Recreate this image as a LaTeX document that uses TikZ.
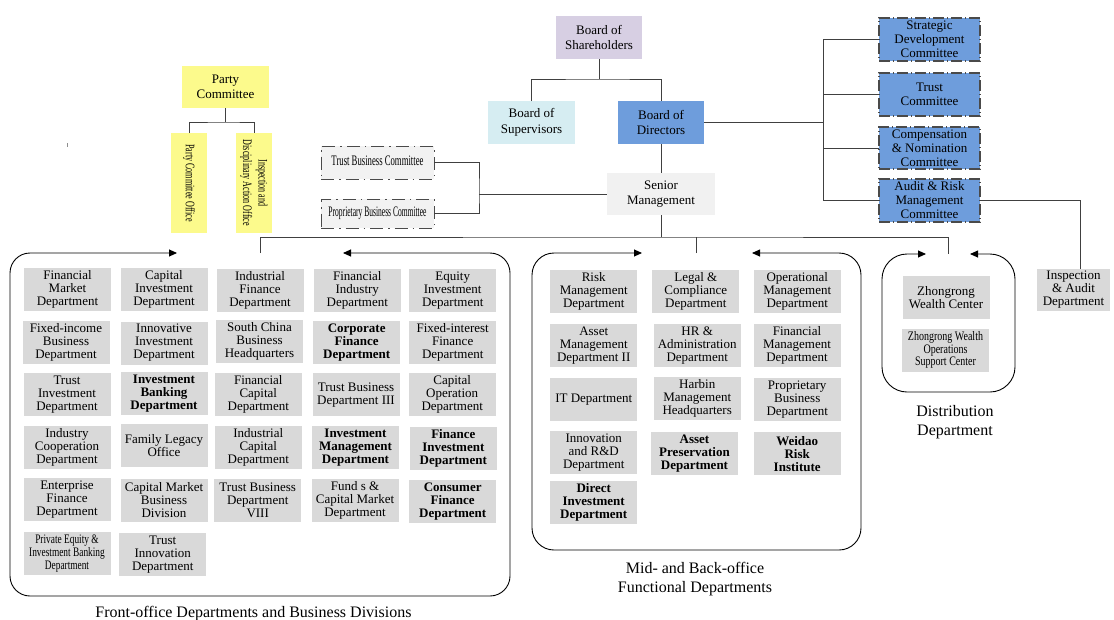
\documentclass[tikz,border=0pt]{standalone}
\usepackage{graphicx}
\usepackage{fontspec}
\setmainfont{Liberation Serif}
\usetikzlibrary{arrows.meta}
\definecolor{linegray}{HTML}{404040}
\definecolor{deptgray}{HTML}{D9D9D9}
\definecolor{smgray}{HTML}{F1F1F1}
\definecolor{supblue}{HTML}{D6EDF2}
\definecolor{dirblue}{HTML}{6E9DDC}
\definecolor{shpurple}{HTML}{D7CFE3}
\definecolor{partyyellow}{HTML}{FCFA8C}
\definecolor{combox}{HTML}{F2F2F2}
\definecolor{dashgray}{HTML}{4A4A4A}
\newcommand{\narrowtext}[4]{\scalebox{#1}[1]{\fontsize{#2}{#3}\selectfont\begin{tabular}{@{}c@{}}#4\end{tabular}}}
\begin{document}
\begin{tikzpicture}[x=1pt,y=-1pt,
  box/.style={inner sep=0pt, outer sep=0pt, align=center, text=black, font=\fontsize{13}{13}\selectfont},
  dept/.style={box, fill=deptgray, minimum width=87pt, minimum height=43pt},
  bdept/.style={dept, font=\fontsize{13}{13}\selectfont\bfseries},
  board/.style={box, minimum width=86pt, minimum height=43pt, font=\fontsize{13}{15.5}\selectfont},
  comm/.style={box, fill=dirblue, minimum width=101pt, minimum height=43pt, draw=dashgray, line width=1.1pt, dash pattern=on 11pt off 3pt on 1pt off 3pt, font=\fontsize{13}{14}\selectfont},
  bizcomm/.style={box, fill=combox, minimum width=113pt, draw=dashgray, line width=1pt, dash pattern=on 13pt off 5pt on 1.5pt off 5pt},
  office/.style={box, fill=partyyellow, rotate=-90, minimum width=100pt, minimum height=36pt},
  conn/.style={draw=linegray, line width=0.9pt},
  grp/.style={draw=black, line width=0.9pt, arrows={Triangle[length=8pt,width=7pt]-Triangle[length=8pt,width=7pt]}},
  lbl/.style={align=center, font=\fontsize{16}{19.5}\selectfont, inner sep=0pt}
]
\useasboundingbox (0,0) rectangle (1114,619);

% top governance
\node[board, fill=shpurple] (sh) at (599,37.5) {Board of\\Shareholders};
\node[board, fill=supblue, minimum width=87pt] (sup) at (531.5,122.5) {Board of\\Supervisors};
\node[board, fill=dirblue] (dir) at (661,122.5) {Board of\\Directors};
\node[board, fill=smgray, minimum width=108pt, minimum height=42pt] (sm) at (661,194) {Senior\\Management};
\node[comm] (c1) at (929.5,39.5) {Strategic\\Development\\Committee};
\node[comm] (c2) at (929.5,94.5) {Trust\\Committee};
\node[comm, minimum height=42pt] (c3) at (929.5,148) {Compensation\\\& Nomination\\Committee};
\node[comm] (c4) at (929.5,200.5) {Audit \& Risk\\Management\\Committee};
\node[dept, minimum width=73pt, minimum height=42pt] (ia) at (1073.5,290) {Inspection\\\& Audit\\Department};

% party
\node[board, fill=partyyellow, minimum width=87pt, minimum height=42pt] (pc) at (225.5,87) {Party\\Committee};
\node[office] (pco) at (189,183) {\narrowtext{0.62}{13}{15.5}{Party Committee Office}};
\node[office] (ido) at (254,183) {\narrowtext{0.62}{13}{15.5}{Inspection and\\Disciplinary Action Office}};

% business committees
\node[bizcomm, minimum height=33pt] (tbc) at (377.5,162.5) {\narrowtext{0.6}{14.5}{14.5}{Trust Business Committee}};
\node[bizcomm, minimum height=29pt] (pbc) at (377.5,213.5) {\narrowtext{0.52}{14.5}{14.5}{Proprietary Business Committee}};

% connectors
\coordinate (shj) at (599,79);
\draw[conn] (sh.south) -- (shj);
\draw[conn] (sup.north) |- (shj) -| (dir.north);
\draw[conn] (dir.south) -- (sm.north);
\coordinate (cbus) at (823,122.5);
\draw[conn] (dir.east) -- (cbus);
\draw[conn] (c1.west) -- (c1.west -| cbus) -- (c4.west -| cbus) -- (c4.west);
\draw[conn] (c2.west) -- (c2.west -| cbus);
\draw[conn] (c3.west) -- (c3.west -| cbus);
\draw[conn] (c4.east) -| ([xshift=6.5pt]ia.north);
\coordinate (pcj) at (225.5,122);
\draw[conn] (pc.south) -- (pcj);
\draw[conn] (pco.west) |- (pcj) -| (ido.west);
\coordinate (bcj) at (479,194);
\draw[conn] (tbc.east) -| (bcj) |- (pbc.east);
\draw[conn] (bcj) -- (sm.west);
\coordinate (hb) at (661,237);
\coordinate (fotop) at (260,253);
\coordinate (mbtop) at (696,253);
\coordinate (dtop) at (948,254);
\draw[conn] (sm.south) -- (hb);
\draw[conn] (fotop) |- (hb) -| (dtop);
\draw[conn] (mbtop) -- (mbtop |- hb);

% group frames
\draw[grp, rounded corners=20pt] (177,253) -- (10,253) -- (10,596) -- (510,596) -- (510,253) -- (343,253);
\draw[grp, rounded corners=22pt] (642,253) -- (532,253) -- (532,550) -- (861,550) -- (861,253) -- (752,253);
\draw[grp, rounded corners=25pt] (926,254) -- (882,254) -- (882,392) -- (1015,392) -- (1015,254) -- (970,254);

% stray tick
\draw[linegray!60, line width=0.6pt] (67.5,143) -- (67.5,146.5);

% front office
\node[dept] (f11) at (67.5,289.5) {Financial\\Market\\Department};
\node[dept] (f12) at (66,342.5) {Fixed-income\\Business\\Department};
\node[dept] (f13) at (67,394.5) {Trust\\Investment\\Department};
\node[dept] (f14) at (67,447.5) {Industry\\Cooperation\\Department};
\node[dept] (f15) at (67,499.5) {Enterprise\\Finance\\Department};
\node[dept] (f16) at (67,553.5) {\narrowtext{0.72}{13}{13}{Private Equity \&\\Investment Banking\\Department}};
\node[dept] (f21) at (164,289.5) {Capital\\Investment\\Department};
\node[dept] (f22) at (164,343) {Innovative\\Investment\\Department};
\node[bdept] (f23) at (164,393.5) {Investment\\Banking\\Department};
\node[dept] (f24) at (164,445.7) {Family Legacy\\Office};
\node[dept] (f25) at (164,500.3) {Capital Market\\Business\\Division};
\node[dept] (f26) at (162.7,554.7) {Trust\\Innovation\\Department};
\node[dept] (f31) at (260,290) {Industrial\\Finance\\Department};
\node[dept] (f32) at (259.5,341.5) {South China\\Business\\Headquarters};
\node[dept] (f33) at (258.3,394.7) {Financial\\Capital\\Department};
\node[dept] (f34) at (258.3,447.2) {Industrial\\Capital\\Department};
\node[dept] (f35) at (257.7,500.2) {Trust Business\\Department\\VIII};
\node[dept] (f41) at (357.3,290.8) {Financial\\Industry\\Department};
\node[bdept] (f42) at (356.7,342.5) {Corporate\\Finance\\Department};
\node[dept] (f43) at (356,394.7) {Trust Business\\Department III};
\node[bdept] (f44) at (355.5,447.2) {Investment\\Management\\Department};
\node[dept] (f45) at (355,500.2) {Fund s \&\\Capital Market\\Department};
\node[dept] (f51) at (452.7,290.8) {Equity\\Investment\\Department};
\node[dept] (f52) at (452.7,342.5) {Fixed-interest\\Finance\\Department};
\node[dept] (f53) at (452.2,394) {Capital\\Operation\\Department};
\node[bdept] (f54) at (453.3,448.2) {Finance\\Investment\\Department};
\node[bdept] (f55) at (452.7,501.3) {Consumer\\Finance\\Department};

% mid and back office
\node[dept] (m11) at (593.7,291.3) {Risk\\Management\\Department};
\node[dept] (m12) at (593.7,345.3) {Asset\\Management\\Department II};
\node[dept] (m13) at (593.7,399.8) {IT Department};
\node[dept] (m14) at (593.7,452.3) {Innovation\\and R\&D\\Department};
\node[bdept] (m15) at (593.7,502.8) {Direct\\Investment\\Department};
\node[dept] (m21) at (695.8,291.3) {Legal \&\\Compliance\\Department};
\node[dept] (m22) at (697.2,345.7) {HR \&\\Administration\\Department};
\node[dept] (m23) at (697.2,398.3) {Harbin\\Management\\Headquarters};
\node[bdept] (m24) at (694.5,453.2) {Asset\\Preservation\\Department};
\node[dept] (m31) at (797.2,291.3) {Operational\\Management\\Department};
\node[dept] (m32) at (797,345.3) {Financial\\Management\\Department};
\node[dept] (m33) at (797.2,399.7) {Proprietary\\Business\\Department};
\node[bdept] (m34) at (797.2,453.7) {Weidao\\Risk\\Institute};

% distribution
\node[dept] (d1) at (946,297.5) {Zhongrong\\Wealth Center};
\node[dept] (d2) at (945.5,350.5) {\narrowtext{0.77}{13}{12.7}{Zhongrong Wealth\\Operations\\Support Center}};

% labels
\node[lbl] (folbl) at (253.5,613.5) {Front-office Departments and Business Divisions};
\node[lbl] (mblbl) at (695,579) {Mid- and Back-office\\Functional Departments};
\node[lbl] (dlbl) at (955,422) {Distribution\\Department};
\end{tikzpicture}
\end{document}
